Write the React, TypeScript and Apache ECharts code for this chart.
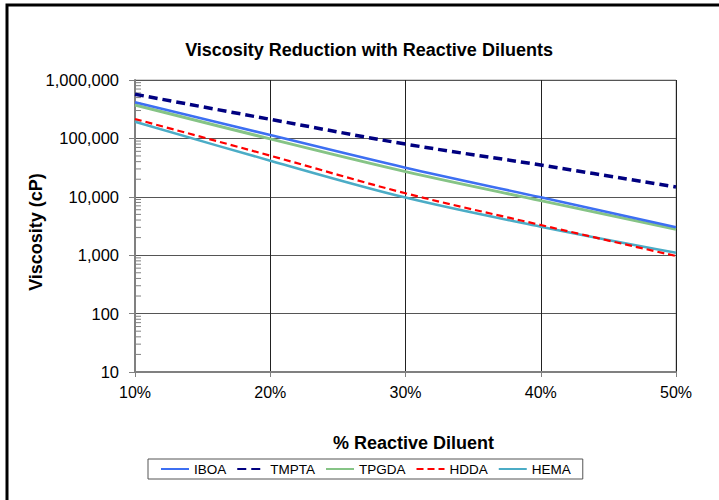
import React, { useEffect, useRef } from "react";
import * as echarts from "echarts";

const diluentPct = [10, 20, 30, 40, 50];
const iboa = [415000, 114000, 31500, 9800, 3000];
const tmpta = [570000, 212000, 80000, 35000, 14700];
const tpgda = [373000, 98000, 27000, 8600, 2780];
const hdda = [215000, 50600, 11500, 3290, 970];
const hema = [193000, 41500, 9700, 3080, 1100];

const seriesNames = ["IBOA", "TMPTA", "TPGDA", "HDDA", "HEMA"];
const minorTickValues: number[] = [];
[10, 100, 1000, 10000, 100000].forEach((d) => {
  [2, 3, 4, 5, 6, 7, 8, 9].forEach((k) => minorTickValues.push(k * d));
});

const fmt = (v: number) => Math.round(v).toLocaleString("en-US");

export default function App() {
  const ref = useRef<HTMLDivElement>(null);
  useEffect(() => {
    if (!ref.current) return;
    const chart = echarts.init(ref.current, null, { renderer: "svg" });
    const pair = (ys: number[]) => diluentPct.map((x, i) => [x, ys[i]]);
    const lineSeries = (name: string, ys: number[], color: string, width: number, type: any, z = 3) => ({
      name,
      type: "line",
      data: pair(ys),
      showSymbol: false,
      symbol: "none",
      smooth: 0.35,
      z,
      lineStyle: { color, width, type },
      itemStyle: { color },
    });
    chart.setOption({
      animation: false,
      backgroundColor: "#fff",
      textStyle: { fontFamily: "Liberation Sans, Arial, sans-serif" },
      title: {
        text: "Viscosity Reduction with Reactive Diluents",
        left: 364,
        top: 36,
        textAlign: "center",
        textStyle: { fontSize: 18, fontWeight: "bold", color: "#000", fontFamily: "Liberation Sans, Arial, sans-serif" },
      },
      grid: { left: 135, top: 80, right: 43, bottom: 128, show: true, borderColor: "#a6a6a6", borderWidth: 1 },
      legend: {
        data: seriesNames,
        left: 148,
        top: 459,
        orient: "horizontal",
        itemWidth: 28,
        itemHeight: 14,
        itemGap: 10,
        padding: [3, 12],
        borderColor: "#555",
        borderWidth: 1,
        borderRadius: 0,
        itemStyle: { opacity: 0 },
        textStyle: { fontSize: 13.5, color: "#000", fontFamily: "Liberation Sans, Arial, sans-serif" },
      },
      xAxis: {
        type: "value",
        min: 10,
        max: 50,
        interval: 10,
        name: "% Reactive Diluent",
        nameLocation: "middle",
        nameGap: 62,
        nameTextStyle: { fontSize: 18, fontWeight: "bold", color: "#000", padding: [0, 0, 0, 16] },
        axisLine: { show: true, lineStyle: { color: "#808080", width: 2 } },
        axisTick: { show: true, length: 5, inside: false, lineStyle: { color: "#808080" } },
        axisLabel: { fontSize: 16, color: "#000", margin: 12, formatter: (v: number) => `${v}%` },
        splitLine: { show: true, lineStyle: { color: "#222", width: 1 } },
      },
      yAxis: {
        type: "log",
        logBase: 10,
        min: 10,
        max: 1000000,
        name: "Viscosity (cP)",
        nameLocation: "middle",
        nameGap: 90,
        nameMoveOverlap: false,
        nameTextStyle: { fontSize: 18, fontWeight: "bold", color: "#000", padding: [0, 12, 0, 0] },
        axisLine: { show: true, lineStyle: { color: "#808080", width: 2 } },
        axisTick: { show: true, length: 6, inside: false, lineStyle: { color: "#808080" } },
        axisLabel: { fontSize: 16.5, color: "#000", margin: 16, formatter: (v: number) => fmt(v) },
        splitLine: { show: true, lineStyle: { color: "#555", width: 1 } },
      },
      series: [
        {
          name: "minor",
          type: "custom",
          silent: true,
          z: 2,
          data: minorTickValues.map((v) => [10, v]),
          renderItem: (params: any, api: any) => {
            const p = api.coord([api.value(0), api.value(1)]);
            return {
              type: "line",
              shape: { x1: p[0] + 1, y1: p[1], x2: p[0] + 6, y2: p[1] },
              style: { stroke: "#808080", lineWidth: 1 },
            };
          },
        },
        lineSeries("IBOA", iboa, "#3d6ff2", 2.5, "solid", 5),
        lineSeries("TMPTA", tmpta, "#000080", 3.5, [9, 5], 6),
        lineSeries("TPGDA", tpgda, "#86c486", 3, "solid", 4),
        lineSeries("HDDA", hdda, "#ff0000", 2.2, [7, 4], 5),
        lineSeries("HEMA", hema, "#4bacc6", 2.5, "solid", 4),
      ],
      graphic: [
        {
          type: "rect",
          silent: true,
          z: 100,
          shape: { x: 7, y: 5, width: 800, height: 600 },
          style: { fill: "none", stroke: "#000", lineWidth: 3 },
        },
      ],
    });
    return () => chart.dispose();
  }, []);
  return (
    <div
      ref={ref}
      style={{ position: "fixed", left: 0, top: 0, width: 719, height: 500, background: "#fff" }}
    />
  );
}
